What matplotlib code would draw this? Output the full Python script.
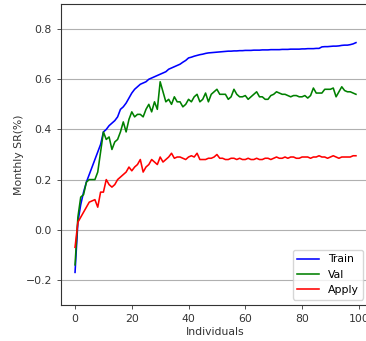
import matplotlib
matplotlib.use("Agg")
import matplotlib.pyplot as plt
import numpy as np

individuals = list(range(100))

train = [-0.17, 0.03, 0.10, 0.15, 0.19, 0.22, 0.25, 0.28, 0.31, 0.34,
         0.39, 0.40, 0.415, 0.425, 0.435, 0.45, 0.48, 0.49, 0.505, 0.525,
         0.545, 0.56, 0.57, 0.58, 0.585, 0.59, 0.60, 0.605, 0.61, 0.615,
         0.62, 0.625, 0.63, 0.64, 0.645, 0.65, 0.655, 0.66, 0.668, 0.675,
         0.685, 0.688, 0.692, 0.695, 0.698, 0.70, 0.703, 0.705, 0.706, 0.707,
         0.708, 0.709, 0.71, 0.711, 0.712, 0.712, 0.713, 0.713, 0.714, 0.714,
         0.715, 0.715, 0.715, 0.716, 0.716, 0.716, 0.717, 0.717, 0.717, 0.718,
         0.718, 0.718, 0.718, 0.719, 0.719, 0.719, 0.72, 0.72, 0.72, 0.72,
         0.721, 0.721, 0.722, 0.722, 0.722, 0.723, 0.723, 0.729, 0.730, 0.730,
         0.731, 0.732, 0.732, 0.733, 0.735, 0.736, 0.736, 0.738, 0.741, 0.746]

val = [-0.14, 0.05, 0.13, 0.14, 0.19, 0.20, 0.20, 0.20, 0.23, 0.31,
       0.39, 0.36, 0.37, 0.32, 0.35, 0.36, 0.39, 0.43, 0.39, 0.44,
       0.47, 0.45, 0.46, 0.46, 0.45, 0.48, 0.50, 0.47, 0.51, 0.48,
       0.59, 0.55, 0.51, 0.52, 0.50, 0.53, 0.51, 0.51, 0.49, 0.50,
       0.52, 0.51, 0.53, 0.54, 0.51, 0.52, 0.545, 0.51, 0.54, 0.55,
       0.56, 0.54, 0.54, 0.54, 0.52, 0.53, 0.56, 0.54, 0.53, 0.53,
       0.535, 0.52, 0.53, 0.54, 0.55, 0.53, 0.53, 0.52, 0.52, 0.535,
       0.54, 0.55, 0.545, 0.54, 0.54, 0.535, 0.53, 0.535, 0.535, 0.53,
       0.53, 0.535, 0.525, 0.535, 0.565, 0.545, 0.545, 0.545, 0.56, 0.56,
       0.56, 0.565, 0.53, 0.55, 0.57, 0.555, 0.55, 0.55, 0.545, 0.54]

apply_ = [-0.07, 0.03, 0.05, 0.07, 0.09, 0.11, 0.115, 0.12, 0.09, 0.15,
          0.15, 0.20, 0.18, 0.17, 0.18, 0.20, 0.21, 0.22, 0.23, 0.25,
          0.235, 0.25, 0.26, 0.28, 0.23, 0.25, 0.26, 0.28, 0.27, 0.26,
          0.29, 0.27, 0.28, 0.29, 0.305, 0.285, 0.29, 0.29, 0.285, 0.28,
          0.29, 0.295, 0.29, 0.305, 0.28, 0.28, 0.28, 0.285, 0.285, 0.29,
          0.30, 0.285, 0.285, 0.28, 0.28, 0.285, 0.285, 0.28, 0.285, 0.28,
          0.28, 0.285, 0.28, 0.28, 0.285, 0.28, 0.28, 0.285, 0.285, 0.28,
          0.285, 0.29, 0.285, 0.285, 0.29, 0.285, 0.29, 0.29, 0.285, 0.285,
          0.29, 0.29, 0.29, 0.285, 0.29, 0.29, 0.295, 0.29, 0.29, 0.285,
          0.29, 0.295, 0.29, 0.285, 0.29, 0.29, 0.29, 0.29, 0.295, 0.295]

fs = 7.8
fig = plt.figure(figsize=(3.66, 3.41), dpi=100)
ax = fig.add_axes([61/366, 36/341, (370-61)/366, 301/341])
ax.plot(individuals, train, color='blue', lw=1.15, label='Train')
ax.plot(individuals, val, color='green', lw=1.15, label='Val')
ax.plot(individuals, apply_, color='red', lw=1.15, label='Apply')
ax.set_ylim(-0.3, 0.9)
ax.set_yticks([-0.2, 0.0, 0.2, 0.4, 0.6, 0.8])
ax.set_xticks([0, 20, 40, 60, 80, 100])
ax.yaxis.grid(True, color='#b0b0b0', lw=0.8)
ax.set_axisbelow(True)
ax.tick_params(labelsize=fs, length=3, width=0.6, colors='#333333')
for s in ax.spines.values():
    s.set_color('#333333')
    s.set_linewidth(0.8)
ax.set_xlabel('Individuals', fontsize=fs, color='#333333', labelpad=2)
ax.set_ylabel('Monthly SR(%)', fontsize=fs, color='#333333', labelpad=1)
leg = ax.legend(loc='lower right', fontsize=fs, handlelength=2.0,
                bbox_to_anchor=(0.995, 0.0))
fig.savefig('out.png', dpi=100)
